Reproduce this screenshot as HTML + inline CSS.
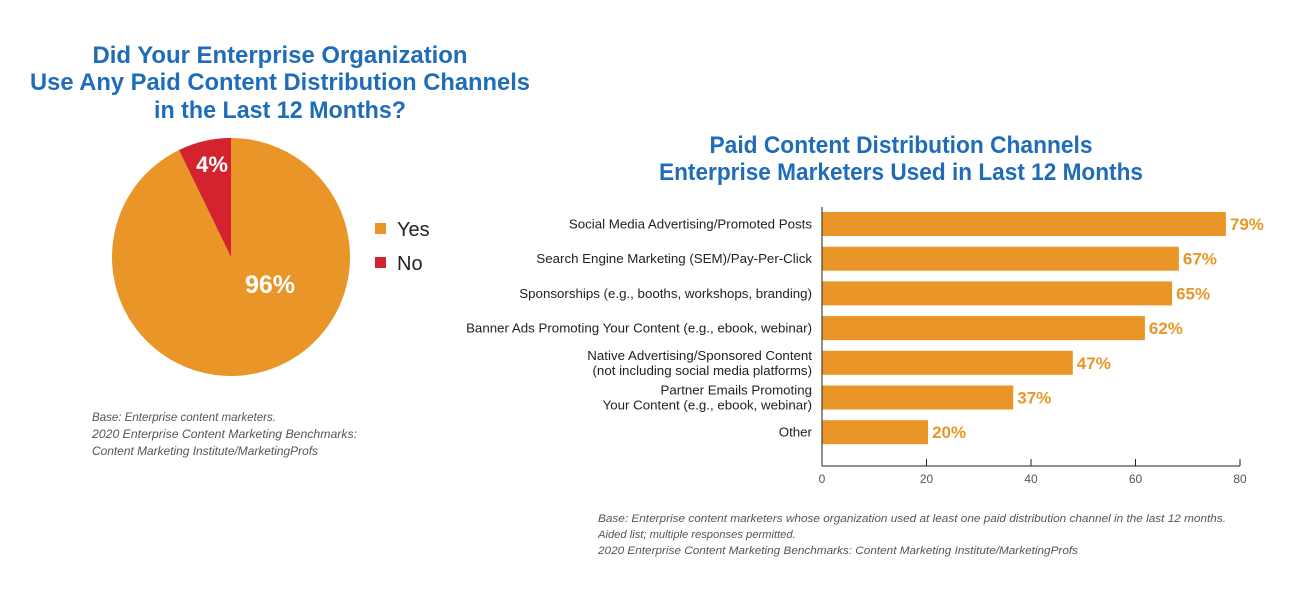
<!DOCTYPE html>
<html><head><meta charset="utf-8"><style>
body{margin:0;background:#fff;}
svg{display:block;font-family:"Liberation Sans",sans-serif;}
</style></head><body>
<svg id="c" width="1297" height="590" viewBox="0 0 1297 590">
<g fill="#1f6db8" font-weight="bold" font-size="24" text-anchor="middle">
<text x="280" y="63" textLength="375" lengthAdjust="spacingAndGlyphs">Did Your Enterprise Organization</text>
<text x="280" y="90" textLength="500" lengthAdjust="spacingAndGlyphs">Use Any Paid Content Distribution Channels</text>
<text x="280" y="118" textLength="252" lengthAdjust="spacingAndGlyphs">in the Last 12 Months?</text>
</g>
<g id="pie"></g>
<g>
<rect x="375" y="223" width="11" height="11" fill="#e99527"/>
<text x="397" y="236" font-size="20" fill="#222">Yes</text>
<rect x="375" y="257" width="11" height="11" fill="#d2232e"/>
<text x="397" y="270" font-size="20" fill="#222">No</text>
</g>
<g font-size="11.5" font-style="italic" fill="#555">
<text x="92" y="421" textLength="184" lengthAdjust="spacingAndGlyphs">Base: Enterprise content marketers.</text>
<text x="92" y="438" textLength="265" lengthAdjust="spacingAndGlyphs">2020 Enterprise Content Marketing Benchmarks:</text>
<text x="92" y="455" textLength="226" lengthAdjust="spacingAndGlyphs">Content Marketing Institute/MarketingProfs</text>
</g>
<g fill="#1f6db8" font-weight="bold" font-size="24" text-anchor="middle">
<text x="901" y="153" textLength="383" lengthAdjust="spacingAndGlyphs">Paid Content Distribution Channels</text>
<text x="901" y="180" textLength="484" lengthAdjust="spacingAndGlyphs">Enterprise Marketers Used in Last 12 Months</text>
</g>
<g id="bars"></g>
<g font-size="11.2" font-style="italic" fill="#555">
<text x="598" y="522" textLength="628" lengthAdjust="spacingAndGlyphs">Base: Enterprise content marketers whose organization used at least one paid distribution channel in the last 12 months.</text>
<text x="598" y="538">Aided list; multiple responses permitted.</text>
<text x="598" y="554" textLength="480" lengthAdjust="spacingAndGlyphs">2020 Enterprise Content Marketing Benchmarks: Content Marketing Institute/MarketingProfs</text>
</g>
</svg>
<script>
const pieCategories=["Yes","No"];
const pieValues=[92.8,7.2];
const pieLabels=["96%","4%"];
const categories=[["Social Media Advertising/Promoted Posts"],["Search Engine Marketing (SEM)/Pay-Per-Click"],["Sponsorships (e.g., booths, workshops, branding)"],["Banner Ads Promoting Your Content (e.g., ebook, webinar)"],["Native Advertising/Sponsored Content","(not including social media platforms)"],["Partner Emails Promoting","Your Content (e.g., ebook, webinar)"],["Other"]];
const values=[77.3,68.3,67,61.8,48,36.6,20.3];
const valueLabels=["79%","67%","65%","62%","47%","37%","20%"];
const ticks=[0,20,40,60,80];

const NS="http://www.w3.org/2000/svg";
function mk(p,t,a){const e=document.createElementNS(NS,t);for(const k in a)e.setAttribute(k,a[k]);p.appendChild(e);return e;}
const pie=document.getElementById('pie');
const cx=231,cy=257,r=119,cols=["#e99527","#d2232e"];
const tot=pieValues.reduce((a,b)=>a+b,0);
pieValues.forEach((v,i)=>{
 const a0=i==0?0:-v/tot*2*Math.PI, a1=i==0?2*Math.PI*v/tot:0;
 const ang0=a0-Math.PI/2, ang1=a1-Math.PI/2;
 const x0=cx+r*Math.cos(ang0),y0=cy+r*Math.sin(ang0),x1=cx+r*Math.cos(ang1),y1=cy+r*Math.sin(ang1);
 const large=(a1-a0)>Math.PI?1:0;
 const p=mk(pie,'path',{d:`M${cx},${cy}L${x0},${y0}A${r},${r} 0 ${large} 1 ${x1},${y1}Z`,fill:cols[i]});
 
 
});
const l1=mk(pie,'text',{x:270,y:293,'font-size':25,'font-weight':'bold',fill:'#fff','text-anchor':'middle'});l1.textContent=pieLabels[0];


const l2=mk(pie,'text',{x:212,y:172,'font-size':22,'font-weight':'bold',fill:'#fff','text-anchor':'middle'});l2.textContent=pieLabels[1];


const g=document.getElementById('bars');
const x0=822,x1=1240,yTop=207,yBot=466;
const xs=v=>x0+(v-ticks[0])/(ticks[ticks.length-1]-ticks[0])*(x1-x0);
const cTop=224,step=34.7,bh=24;
values.forEach((v,i)=>{
 const yc=cTop+i*step;
 const b=mk(g,'rect',{x:x0,y:yc-bh/2,width:xs(v)-x0,height:bh,fill:'#e99527'});
 
 
 const t=mk(g,'text',{x:xs(v)+4,y:yc+6,'font-size':17,'font-weight':'bold',fill:'#e99527'});t.textContent=valueLabels[i];
 
 
 const lines=categories[i];
 lines.forEach((ln,j)=>{
  const ty=yc+4.5+(j-(lines.length-1)/2)*15;
  const c=mk(g,'text',{x:812,y:ty,'font-size':13.3,fill:'#222','text-anchor':'end'});c.textContent=ln;
  
  
 });
});
const ya=mk(g,'line',{x1:x0,y1:yTop,x2:x0,y2:yBot,stroke:'#222','stroke-width':1});


const xa=mk(g,'line',{x1:x0,y1:yBot,x2:x1,y2:yBot,stroke:'#222','stroke-width':1});


ticks.forEach(tv=>{
 const x=xs(tv);
 const tk=mk(g,'line',{x1:x,y1:yBot-7,x2:x,y2:yBot,stroke:'#222','stroke-width':1});
 
 
 const tl=mk(g,'text',{x:x,y:483,'font-size':12,fill:'#555','text-anchor':'middle'});tl.textContent=tv;
 
 
});
</script>
</body></html>
